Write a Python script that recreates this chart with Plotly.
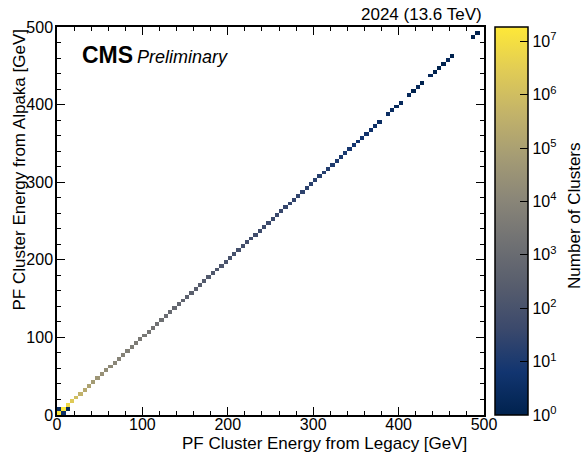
import math
import plotly.graph_objects as go

# ---- data ----
bin_width = 5.0
n_bins = 100
# counts on the diagonal (legacy bin == alpaka bin), index i -> [5i, 5i+5) GeV
diag_counts = [
    1.4e7, 1.8e7, 7.1e6, 2.5e6, 1.0e6, 4.0e5, 2.0e5, 1.1e5, 6.3e4, 4.0e4,
    2.6e4, 1.9e4, 1.4e4, 1.07e4, 8500, 6900, 5750, 4800, 4070, 3550,
    3090, 2510, 2040, 1660, 1350, 1100, 890, 724, 589, 479,
    398, 347, 302, 257, 224, 195, 170, 148, 126, 110,
    95, 87, 79, 74, 68, 62, 56, 51, 48, 44,
    40, 37, 34, 31, 29, 27, 25, 23, 21, 19,
    18, 16, 15, 13, 12, 11, 10, 9, 8, 7,
    6, 6, 5, 5, 4, 3, 0, 3, 3, 2,
    2, 0, 2, 1, 2, 1, 0, 2, 1, 1,
    1, 2, 1, 0, 0, 0, 0, 1, 1, 0,
]
# off-diagonal bins: (legacy bin index, alpaka bin index, count)
offdiag = [(0, 1, 3), (1, 0, 4), (2, 1, 2)]

cbar_tickvals = [0, 1, 2, 3, 4, 5, 6, 7]
cbar_ticktext = ["10<sup>%d</sup>" % v for v in cbar_tickvals]
zmax_log = 7.27

# ---- build histogram grid ----
centers = [bin_width * (i + 0.5) for i in range(n_bins)]
z = [[None] * n_bins for _ in range(n_bins)]
for i, c in enumerate(diag_counts):
    if c > 0:
        z[i][i] = math.log10(c)
for ix, iy, c in offdiag:
    z[iy][ix] = math.log10(c)

FONT = "Liberation Sans, Arial, Helvetica, sans-serif"

fig = go.Figure()
fig.add_trace(go.Heatmap(
    x=centers, y=centers, z=z,
    colorscale="Cividis", zmin=0, zmax=zmax_log,
    hoverongaps=False,
    colorbar=dict(
        x=1.0258, xanchor="left", xpad=0, ypad=0,
        y=0.5, yanchor="middle", len=1, lenmode="fraction",
        thickness=33, thicknessmode="pixels",
        outlinewidth=1.5, outlinecolor="black",
        tickvals=cbar_tickvals, ticktext=cbar_ticktext,
        ticks="inside", ticklen=8, tickcolor="black", tickwidth=1,
        tickfont=dict(size=16, family=FONT, color="black"),
    ),
))

axis_common = dict(
    range=[0, 500], dtick=100, tick0=0,
    ticks="inside", ticklen=8, tickwidth=1, tickcolor="black",
    showline=True, linecolor="black", linewidth=1.5, mirror="allticks",
    showgrid=False, zeroline=False,
    tickfont=dict(size=16, family=FONT, color="black"),
    minor=dict(dtick=20, ticks="inside", ticklen=4, tickcolor="black", tickwidth=1, showgrid=False),
)
fig.update_xaxes(**axis_common, ticklabelstandoff=-6)
fig.update_yaxes(**axis_common, ticklabelstandoff=-1)

fig.update_layout(
    width=586, height=455,
    margin=dict(l=57, r=102, t=27, b=40),
    paper_bgcolor="white", plot_bgcolor="white",
    font=dict(family=FONT, color="black"),
    showlegend=False,
    annotations=[
        dict(text="<b>CMS</b>", xref="paper", yref="paper", x=0.053, y=0.928,
             xanchor="left", yanchor="middle", showarrow=False,
             font=dict(size=23, family=FONT, color="black")),
        dict(text="<i>Preliminary</i>", xref="paper", yref="paper", x=0.183, y=0.922,
             xanchor="left", yanchor="middle", showarrow=False,
             font=dict(size=18, family=FONT, color="black")),
        dict(text="2024 (13.6 TeV)", xref="paper", yref="paper", x=1.0, y=1.031,
             xanchor="right", yanchor="middle", showarrow=False,
             font=dict(size=17, family=FONT, color="black")),
        dict(text="PF Cluster Energy from Legacy [GeV]", xref="paper", yref="paper",
             x=0.288, y=-0.073, xanchor="left", yanchor="middle", showarrow=False,
             font=dict(size=17, family=FONT, color="black")),
        dict(text="PF Cluster Energy from Alpaka [GeV]", xref="paper", yref="paper",
             x=-0.09, y=1.0, xanchor="center", yanchor="top", textangle=-90, showarrow=False,
             font=dict(size=17, family=FONT, color="black")),
        dict(text="Number of Clusters", xref="paper", yref="paper",
             x=1.213, y=0.513, xanchor="center", yanchor="middle", textangle=-90, showarrow=False,
             font=dict(size=17, family=FONT, color="black")),
    ],
)

fig.write_html("out.html", config={"displayModeBar": False},
               post_script="document.body.style.margin='0px';")
